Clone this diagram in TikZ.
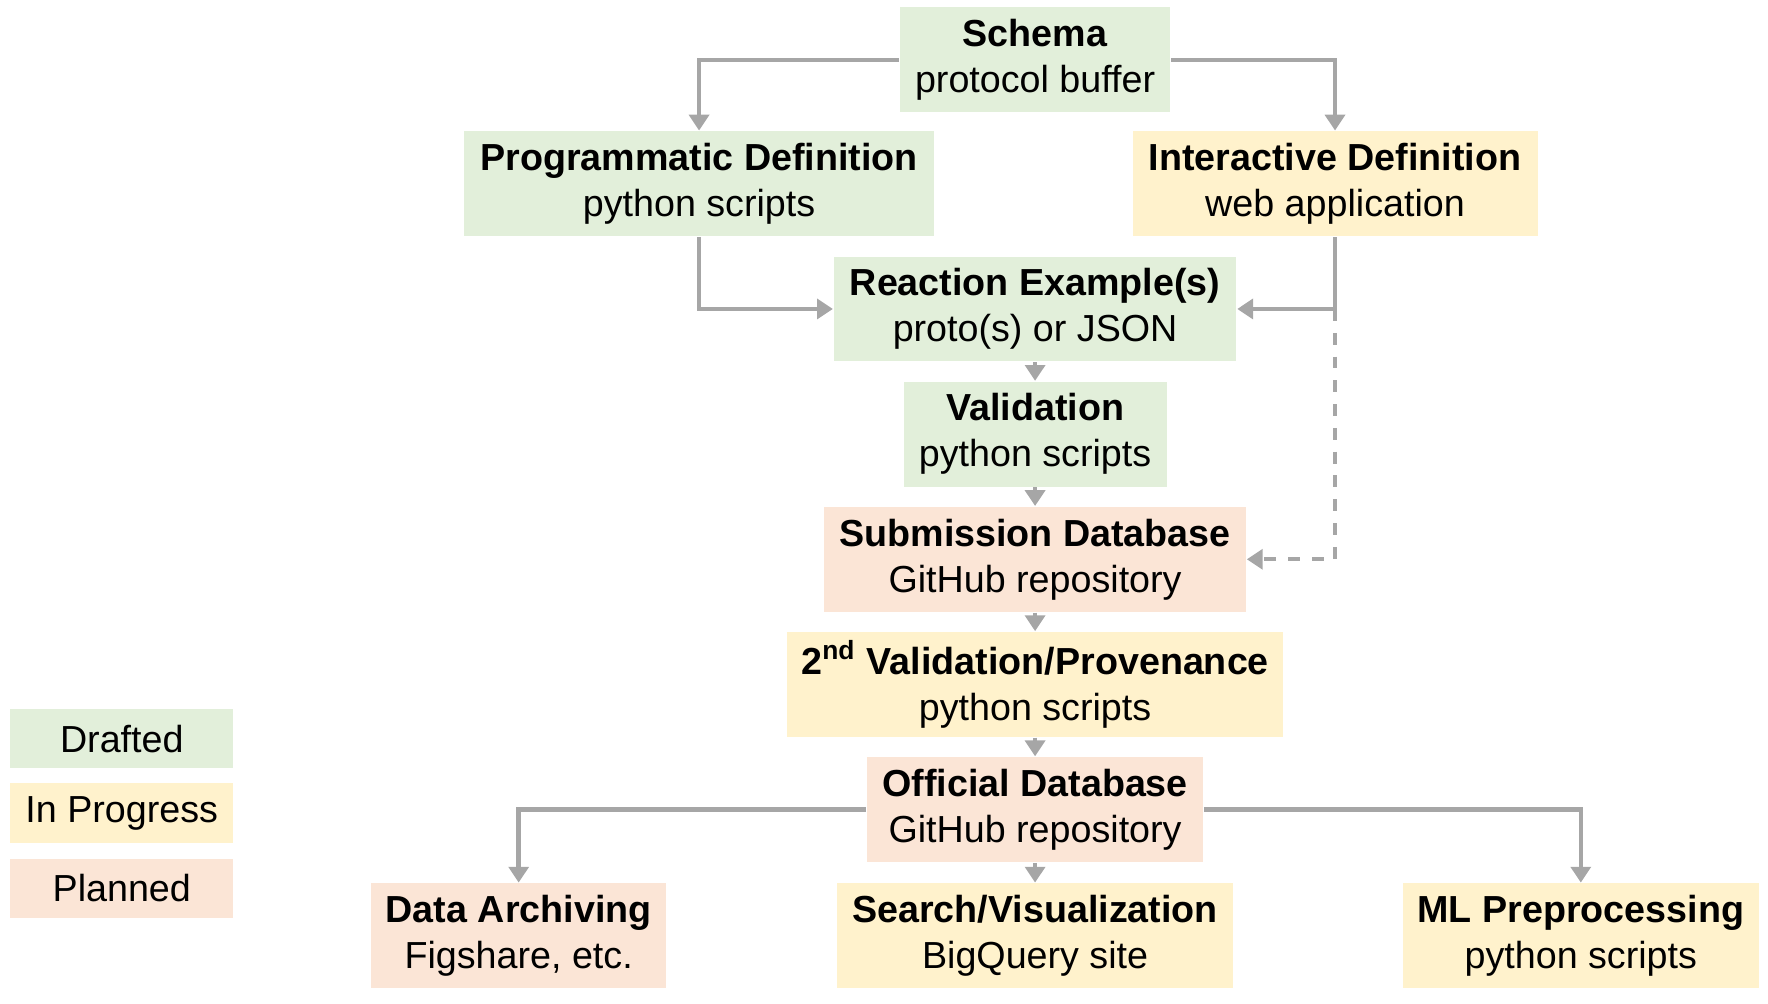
\documentclass[tikz,border=0pt]{standalone}
\usepackage{fontspec}
\setmainfont{Liberation Sans}
\usetikzlibrary{arrows.meta,positioning}
\definecolor{drafted}{HTML}{E2EFDA}
\definecolor{inprog}{HTML}{FFF2CC}
\definecolor{planned}{HTML}{FBE5D6}
\definecolor{arrowgray}{HTML}{A6A6A6}
\tikzset{
  box/.style={align=center, inner sep=0pt, minimum height=0.93cm, font=\fontsize{9.5}{11.6}\selectfont},
  flow/.style={draw=arrowgray, line width=1.1pt, -{Triangle[length=4pt,width=5pt]}},
}
\begin{document}
\begin{tikzpicture}[x=0.01cm,y=-0.01cm]
  \useasboundingbox (0,0) rectangle (1568,890);
  % stages
  \node[box,fill=drafted,minimum width=2.40cm] (schema) at (918,53) {\textbf{Schema}\\protocol buffer};
  \node[box,fill=drafted,minimum width=4.16cm] (prog) at (620,163) {\textbf{Programmatic Definition}\\python scripts};
  \node[box,fill=inprog,minimum width=3.59cm] (inter) at (1184,163) {\textbf{Interactive Definition}\\web application};
  \node[box,fill=drafted,minimum width=3.57cm] (react) at (918,274) {\textbf{Reaction Example(s)}\\proto(s) or JSON};
  \node[box,fill=drafted,minimum width=2.33cm] (valid) at (918,385) {\textbf{Validation}\\python scripts};
  \node[box,fill=planned,minimum width=3.74cm] (submit) at (918,496) {\textbf{Submission Database}\\GitHub repository};
  \node[box,fill=inprog,minimum width=4.40cm] (prov) at (918,607) {\textbf{2\textsuperscript{nd} Validation/Provenance}\\python scripts};
  \node[box,fill=planned,minimum width=2.98cm] (official) at (918,718) {\textbf{Official Database}\\GitHub repository};
  \node[box,fill=planned,minimum width=2.61cm] (archive) at (460,830) {\textbf{Data Archiving}\\Figshare, etc.};
  \node[box,fill=inprog,minimum width=3.51cm] (search) at (918,830) {\textbf{Search/Visualization}\\BigQuery site};
  \node[box,fill=inprog,minimum width=3.16cm] (ml) at (1402,830) {\textbf{ML Preprocessing}\\python scripts};
  % legend
  \node[box,fill=drafted,minimum width=1.98cm,minimum height=0.53cm] (lgdraft) at (108,655) {Drafted};
  \node[box,fill=inprog,minimum width=1.98cm,minimum height=0.53cm] (lgprog) at (108,721) {In Progress};
  \node[box,fill=planned,minimum width=1.98cm,minimum height=0.53cm] (lgplan) at (108,788) {Planned};
  % connectors
  \coordinate (split) at (1184,274);
  \draw[flow] (schema.west) -| (prog.north);
  \draw[flow] (schema.east) -| (inter.north);
  \draw[flow] (prog.south) |- (react.west);
  \draw[flow] (inter.south) |- (react.east);
  \draw[flow,dashed] (split) |- (submit.east);
  \draw[flow] (react) -- (valid);
  \draw[flow] (valid) -- (submit);
  \draw[flow] (submit) -- (prov);
  \draw[flow] (prov) -- (official);
  \draw[flow] (official) -- (search);
  \draw[flow] (official.west) -| (archive.north);
  \draw[flow] (official.east) -| (ml.north);
\end{tikzpicture}
\end{document}
